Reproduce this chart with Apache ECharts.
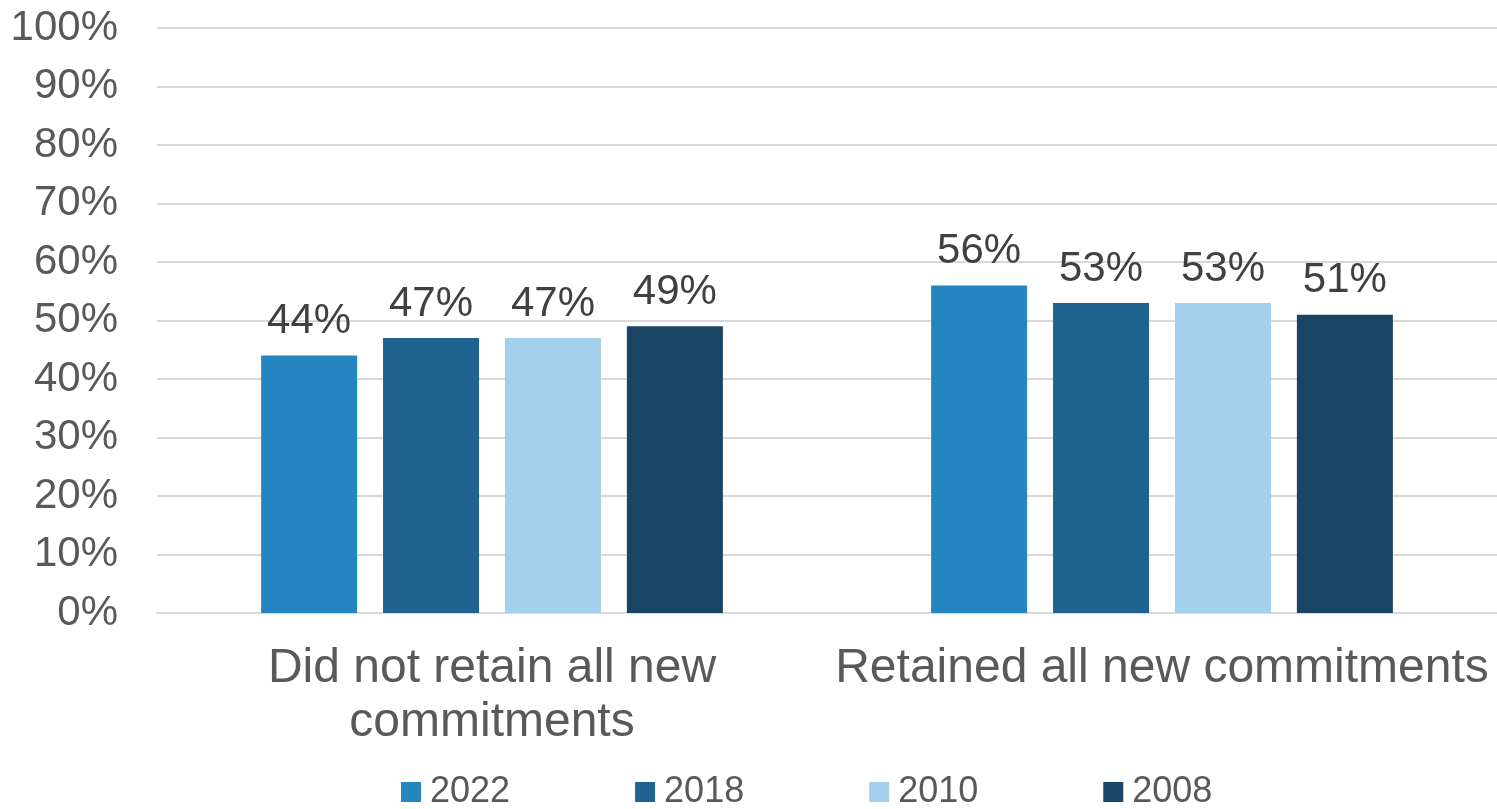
<!DOCTYPE html>
<html>
<head>
<meta charset="utf-8">
<script src="https://cdn.jsdelivr.net/npm/echarts@6/dist/echarts.min.js"></script>
<style>
  html, body { margin: 0; padding: 0; background: #fff; }
  #chart { width: 1497px; height: 809px; }
</style>
</head>
<body>
<div id="chart"></div>
<script>
// Share of respondents by commitment retention, per survey year
const categories = ['Did not retain all new\ncommitments', 'Retained all new commitments'];
const years = ['2022', '2018', '2010', '2008'];
const values2022 = [44, 56];
const values2018 = [47, 53];
const values2010 = [47, 53];
const values2008 = [49, 51];
const yTicks = [0, 10, 20, 30, 40, 50, 60, 70, 80, 90, 100];

const colors = ['#2585C0', '#1F6390', '#A3D1EC', '#174563'];
const seriesValues = [values2022, values2018, values2010, values2008];
const font = 'Liberation Sans, Arial, sans-serif';

const chart = echarts.init(document.getElementById('chart'));
chart.setOption({
  animation: false,
  grid: { left: 157, right: -13, top: 28, bottom: 196 },
  legend: {
    data: years,
    left: 396,
    top: 766,
    itemWidth: 20,
    itemHeight: 20,
    itemGap: 125,
    icon: 'rect',
    textStyle: {
      fontFamily: font, fontSize: 36, color: '#595959',
      lineHeight: 42, padding: [0, 0, 0, 4]
    }
  },
  xAxis: {
    type: 'category',
    data: categories,
    axisLine: { show: true, lineStyle: { color: '#d9d9d9', width: 2 } },
    axisTick: { show: false },
    axisLabel: {
      fontFamily: font, fontSize: 48, color: '#595959',
      lineHeight: 54, margin: 29, interval: 0
    }
  },
  yAxis: {
    type: 'value',
    min: yTicks[0],
    max: yTicks[yTicks.length - 1],
    interval: 10,
    axisLine: { show: false },
    axisTick: { show: false },
    splitLine: { lineStyle: { color: '#d9d9d9', width: 2 } },
    axisLabel: {
      fontFamily: font, fontSize: 42, color: '#595959', margin: 39,
      formatter: v => v + '%'
    }
  },
  series: years.map((y, i) => ({
    name: y,
    type: 'bar',
    data: seriesValues[i],
    barWidth: 96,
    barGap: '27%',
    itemStyle: { color: colors[i] },
    label: {
      show: true, position: 'top', distance: 13,
      fontFamily: font, fontSize: 42, color: '#404040',
      formatter: p => p.value + '%'
    }
  }))
});
</script>
</body>
</html>
